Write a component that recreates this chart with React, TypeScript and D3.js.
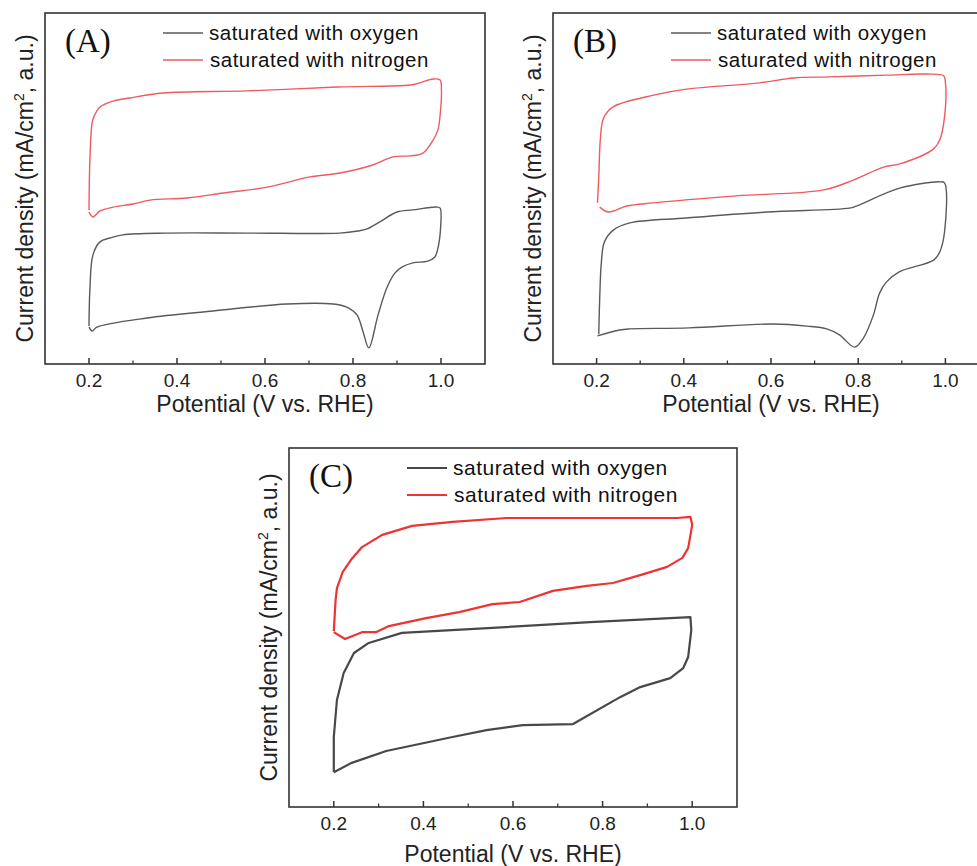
import React from "react";
import * as d3 from "d3";

// ---------- data (potential V vs RHE, current density a.u.) ----------
const aOxygen: [number, number][] = [
  [0.2, 10.8], [0.202, 21.1], [0.209, 31.1], [0.225, 34.8], [0.248, 35.9], [0.277, 36.8],
  [0.377, 37.3], [0.559, 37.3], [0.77, 37.3], [0.811, 37.9], [0.832, 38.5], [0.861, 40.5],
  [0.9, 43.3], [0.936, 43.9], [0.991, 44.7], [0.998, 44.4], [0.999, 38.7], [0.993, 33.0],
  [0.986, 30.5], [0.97, 29.3], [0.936, 28.8], [0.911, 27.6], [0.895, 25.9], [0.877, 21.7],
  [0.857, 14.0], [0.836, 4.6], [0.823, 9.1], [0.809, 14.0], [0.786, 16.2], [0.755, 17.1],
  [0.65, 17.1], [0.482, 15.1], [0.332, 13.1], [0.218, 10.5], [0.207, 9.4], [0.2, 10.5],
];
const aNitrogen: [number, number][] = [
  [0.2, 43.9], [0.202, 58.1], [0.207, 68.7], [0.211, 70.4], [0.225, 73.2], [0.255, 74.9],
  [0.293, 75.8], [0.368, 77.2], [0.559, 77.8], [0.764, 78.9], [0.93, 79.5], [0.952, 80.1],
  [0.982, 81.2], [0.998, 80.9], [1.001, 78.1], [0.998, 70.9], [0.993, 66.7], [0.982, 63.8],
  [0.959, 60.1], [0.93, 59.3], [0.891, 59.0], [0.845, 56.7], [0.77, 54.4], [0.702, 53.3],
  [0.605, 50.4], [0.505, 48.7], [0.423, 47.3], [0.339, 46.7], [0.3, 45.6], [0.255, 44.7],
  [0.225, 43.6], [0.209, 41.9], [0.2, 43.3],
];
const bOxygen: [number, number][] = [
  [0.205, 8.5], [0.207, 18.2], [0.211, 29.1], [0.218, 34.8], [0.239, 38.2], [0.276, 40.2],
  [0.406, 41.6], [0.59, 43.3], [0.78, 44.4], [0.796, 45.0], [0.895, 50.1], [0.987, 51.9],
  [0.998, 51.6], [0.998, 37.6], [0.987, 31.9], [0.973, 29.6], [0.893, 26.2], [0.865, 23.4],
  [0.849, 20.2], [0.835, 14.0], [0.812, 7.4], [0.792, 4.8], [0.757, 8.3], [0.728, 10.0],
  [0.682, 10.8], [0.606, 11.4], [0.413, 10.3], [0.276, 10.0], [0.253, 9.7], [0.202, 8.0],
];
const bNitrogen: [number, number][] = [
  [0.202, 45.9], [0.205, 53.3], [0.209, 64.7], [0.216, 70.1], [0.237, 73.2], [0.331, 76.6],
  [0.406, 78.3], [0.574, 80.1], [0.652, 81.5], [0.734, 81.8], [0.865, 82.3], [0.957, 82.6],
  [0.996, 82.1], [1.0, 80.3], [0.998, 70.4], [0.987, 63.8], [0.973, 61.3], [0.895, 57.0],
  [0.858, 56.1], [0.789, 52.4], [0.721, 49.6], [0.521, 47.9], [0.331, 45.9], [0.269, 45.0],
  [0.228, 43.3], [0.207, 44.7],
];
const cOxygen: [number, number][] = [
  [0.2, 9.7], [0.2, 19.5], [0.207, 29.8], [0.222, 37.3], [0.245, 42.9], [0.278, 45.7],
  [0.352, 48.5], [0.554, 49.9], [0.772, 51.5], [0.996, 52.9], [0.998, 49.3], [0.991, 41.8],
  [0.98, 38.7], [0.951, 35.9], [0.884, 33.4], [0.839, 30.6], [0.734, 23.1], [0.622, 22.8],
  [0.541, 21.4], [0.465, 19.5], [0.317, 15.6], [0.24, 12.3], [0.2, 9.7],
];
const cNitrogen: [number, number][] = [
  [0.2, 49.0], [0.204, 57.7], [0.207, 61.0], [0.22, 65.5], [0.238, 68.8], [0.263, 72.4],
  [0.308, 75.8], [0.375, 78.3], [0.465, 79.4], [0.586, 80.5], [0.765, 80.5], [0.884, 80.5],
  [0.967, 80.5], [0.996, 80.8], [1.0, 78.6], [0.991, 72.1], [0.978, 69.4], [0.944, 66.9],
  [0.884, 64.6], [0.823, 62.4], [0.765, 61.6], [0.689, 60.2], [0.615, 57.1], [0.554, 56.5],
  [0.48, 54.3], [0.406, 52.6], [0.323, 50.4], [0.294, 48.7], [0.263, 48.7], [0.225, 46.8],
  [0.2, 48.7],
];

const xMajorTicks = [0.2, 0.4, 0.6, 0.8, 1.0];
const xMinorTicks = [0.3, 0.5, 0.7, 0.9];
const xDomain: [number, number] = [0.1, 1.1];
const yDomain: [number, number] = [0, 100];
const legendLabels = ["saturated with oxygen", "saturated with nitrogen"];
const panelLabels = ["(A)", "(B)", "(C)"];
const xTitle = "Potential (V vs. RHE)";

const SANS = "'Liberation Sans', Arial, sans-serif";
const SERIF = "'Liberation Serif', 'Times New Roman', serif";

type PanelCfg = {
  label: string;
  left: number; top: number; right: number; bottom: number;
  ox: [number, number][]; n2: [number, number][];
  oxColor: string; n2Color: string; oxW: number; n2W: number;
  smooth: boolean; titleDy: number; legFont: number;
};

const panels: PanelCfg[] = [
  { label: panelLabels[0], left: 45, top: 13, right: 485, bottom: 364, ox: aOxygen, n2: aNitrogen,
    oxColor: "#5a5a5a", n2Color: "#ee5a5e", oxW: 1.4, n2W: 1.4, smooth: true, titleDy: 48, legFont: 20.5 },
  { label: panelLabels[1], left: 553, top: 13, right: 989, bottom: 364, ox: bOxygen, n2: bNitrogen,
    oxColor: "#5a5a5a", n2Color: "#ee5a5e", oxW: 1.4, n2W: 1.4, smooth: true, titleDy: 48, legFont: 20.5 },
  { label: panelLabels[2], left: 289, top: 448, right: 737, bottom: 807, ox: cOxygen, n2: cNitrogen,
    oxColor: "#484848", n2Color: "#ee3333", oxW: 2.2, n2W: 2.2, smooth: false, titleDy: 55, legFont: 21 },
];

function Panel({ p }: { p: PanelCfg }) {
  const x = d3.scaleLinear().domain(xDomain).range([p.left, p.right]);
  const y = d3.scaleLinear().domain(yDomain).range([p.bottom, p.top]);
  const line = d3
    .line<[number, number]>()
    .x((d) => x(d[0]))
    .y((d) => y(d[1]))
    .curve(p.smooth ? d3.curveCatmullRom.alpha(0.5) : d3.curveLinear);
  const fmt = d3.format(".1f");
  const frame = "#333";
  const midY = (p.top + p.bottom) / 2;
  const legX = p.left + 118;
  return (
    <g>
      <path d={line(p.n2) || ""} fill="none" stroke={p.n2Color} strokeWidth={p.n2W} strokeLinejoin="round" />
      <path d={line(p.ox) || ""} fill="none" stroke={p.oxColor} strokeWidth={p.oxW} strokeLinejoin="round" />
      <rect x={p.left} y={p.top} width={p.right - p.left} height={p.bottom - p.top}
        fill="none" stroke={frame} strokeWidth={1.6} />
      {xMajorTicks.map((t) => (
        <g key={"M" + t}>
          <line x1={x(t)} x2={x(t)} y1={p.bottom} y2={p.bottom - 6} stroke={frame} strokeWidth={1.5} />
          <text x={x(t)} y={p.bottom + 23} textAnchor="middle" fontFamily={SANS} fontSize={19} fill="#222">
            {fmt(t)}
          </text>
        </g>
      ))}
      {xMinorTicks.map((t) => (
        <line key={"m" + t} x1={x(t)} x2={x(t)} y1={p.bottom} y2={p.bottom - 3.5} stroke={frame} strokeWidth={1.3} />
      ))}
      <text x={(p.left + p.right) / 2} y={p.bottom + p.titleDy} textAnchor="middle"
        fontFamily={SANS} fontSize={23} fill="#222">
        {xTitle}
      </text>
      <text transform={`translate(${p.left - 12},${midY}) rotate(-90)`} textAnchor="middle"
        fontFamily={SANS} fontSize={23} fill="#222">
        Current density (mA/cm<tspan dy={-9} fontSize={14}>2</tspan>
        <tspan dy={9}>, a.u.)</tspan>
      </text>
      <text x={p.left + 20} y={p.top + 39} fontFamily={SERIF} fontSize={33} fill="#111">
        {p.label}
      </text>
      {legendLabels.map((lab, i) => (
        <g key={lab}>
          <line x1={legX} x2={legX + 40} y1={p.top + 20 + i * 27} y2={p.top + 20 + i * 27}
            stroke={i === 0 ? p.oxColor : p.n2Color} strokeWidth={i === 0 ? p.oxW : p.n2W} />
          <text x={legX + 46 + i * 1} y={p.top + 27 + i * 27} fontFamily={SANS} fontSize={p.legFont}
            letterSpacing={0.5} fill="#111">
            {lab}
          </text>
        </g>
      ))}
    </g>
  );
}

export default function App() {
  return (
    <svg width={977} height={866} style={{ position: "absolute", left: 0, top: 0, background: "#fff" }}>
      <rect width={977} height={866} fill="#fff" />
      {panels.map((p) => (
        <Panel key={p.label} p={p} />
      ))}
    </svg>
  );
}
